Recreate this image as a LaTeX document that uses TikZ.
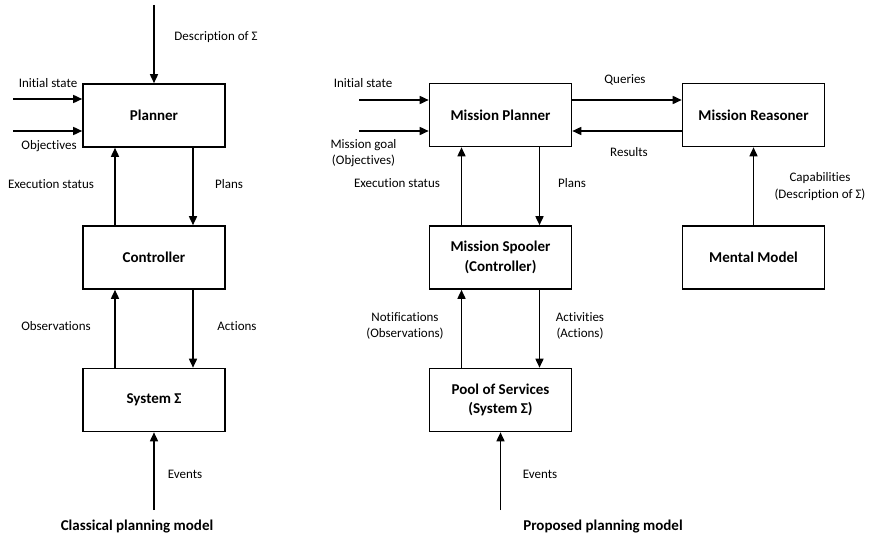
\documentclass[tikz,border=0pt]{standalone}
\usepackage{fontspec}
\setmainfont{Carlito}[Ligatures=NoCommon]
\usetikzlibrary{arrows.meta}
\tikzset{
  box/.style={draw, line width=1.6pt, minimum width=142pt, minimum height=63pt, inner sep=0pt, align=center, font=\fontsize{15}{19.5}\selectfont\bfseries},
  arr/.style={line width=1.6pt, -{Triangle[length=9pt,width=8pt]}},
  lbl/.style={inner sep=0pt, align=center, font=\fontsize{13}{16.5}\selectfont},
  ttl/.style={inner sep=0pt, font=\fontsize{15}{18}\selectfont\bfseries}
}
\begin{document}
\begin{tikzpicture}[x=1pt,y=-1pt]
\useasboundingbox (0,0) rectangle (869,535);
% ---------- left: classical ----------
\node[box] (planner) at (154,115.5) {Planner};
\node[box] (ctrl) at (154,257.5) {Controller};
\node[box] (sys) at (154,400) {System Σ};
\coordinate (d0) at (154,5);
\coordinate (i0) at (13,99);
\coordinate (o0) at (13,131);
\coordinate (e0) at (154,510);
\draw[arr] (d0) -- (planner.north);
\draw[arr] (i0) -- (i0 -| planner.west);
\draw[arr] (o0) -- (o0 -| planner.west);
\draw[arr] ([xshift=-39pt]ctrl.north) -- ([xshift=-39pt]planner.south);
\draw[arr] ([xshift=39pt]planner.south) -- ([xshift=39pt]ctrl.north);
\draw[arr] ([xshift=-39pt]sys.north) -- ([xshift=-39pt]ctrl.south);
\draw[arr] ([xshift=39pt]ctrl.south) -- ([xshift=39pt]sys.north);
\draw[arr] (e0) -- (sys.south);
\node[lbl] (ldesc) at (216,37) {Description of Σ};
\node[lbl] (linit) at (48,83) {Initial state};
\node[lbl] (lobj) at (49,146) {Objectives};
\node[lbl] (lexec) at (51,184) {Execution status};
\node[lbl] (lplans) at (229,184) {Plans};
\node[lbl] (lobs) at (56,326) {Observations};
\node[lbl] (lact) at (237,326) {Actions};
\node[lbl] (lev) at (185,474) {Events};
\node[ttl] (tcl) at (137,527) {Classical planning model};
% ---------- right: proposed ----------
\node[box] (mp) at (500.5,115) {Mission Planner};
\node[box] (mr) at (753.5,115) {Mission Reasoner};
\node[box] (ms) at (500.5,257.5) {Mission Spooler\\(Controller)};
\node[box] (mm) at (753.5,257.5) {Mental Model};
\node[box] (ps) at (500.5,400) {Pool of Services\\(System Σ)};
\coordinate (ri0) at (359,100);
\coordinate (rg0) at (359,131);
\coordinate (re0) at (500.5,510);
\draw[arr] (ri0) -- (ri0 -| mp.west);
\draw[arr] (rg0) -- (rg0 -| mp.west);
\draw[arr] ([yshift=15pt]mp.east) -- ([yshift=15pt]mr.west);
\draw[arr] ([yshift=-16pt]mr.west) -- ([yshift=-16pt]mp.east);
\draw[arr] ([xshift=-39pt]ms.north) -- ([xshift=-39pt]mp.south);
\draw[arr] ([xshift=39pt]mp.south) -- ([xshift=39pt]ms.north);
\draw[arr] ([xshift=-39pt]ps.north) -- ([xshift=-39pt]ms.south);
\draw[arr] ([xshift=39pt]ms.south) -- ([xshift=39pt]ps.north);
\draw[arr] (mm.north) -- (mr.south);
\draw[arr] (re0) -- (ps.south);
\node[lbl] (rinit) at (363,83) {Initial state};
\node[lbl] (rgoal) at (363.5,153) {Mission goal\\(Objectives)};
\node[lbl] (rexec) at (397,183) {Execution status};
\node[lbl] (rplans) at (572,183) {Plans};
\node[lbl] (rq) at (625,80) {Queries};
\node[lbl] (rres) at (629,152) {Results};
\node[lbl] (rcap) at (820,186.5) {Capabilities\\(Description of Σ)};
\node[lbl] (rnot) at (405,326) {Notifications\\(Observations)};
\node[lbl] (ract) at (580,326) {Activities\\(Actions)};
\node[lbl] (rev) at (540,474) {Events};
\node[ttl] (tpr) at (603,527) {Proposed planning model};
\end{tikzpicture}
\end{document}
